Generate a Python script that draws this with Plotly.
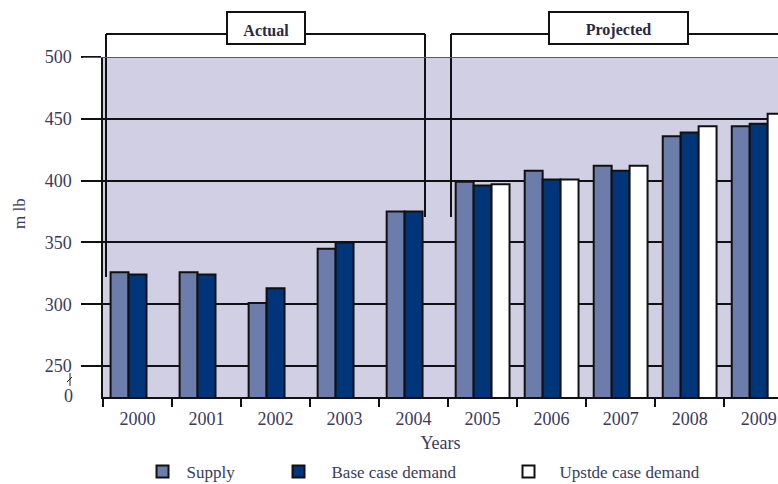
import plotly.graph_objects as go

years = ['2000', '2001', '2002', '2003', '2004', '2005', '2006', '2007', '2008', '2009']
supply = [326, 326, 301, 345, 375, 399, 408, 412, 436, 444]
base_demand = [324, 324, 313, 350, 375, 396, 401, 408, 439, 446]
upside_demand = [None, None, None, None, None, 397, 401, 412, 444, 454]

y_ticks = [250, 300, 350, 400, 450, 500]
y_labels = ['250', '300', '350', '400', '450', '500']

W, H = 778, 484
L, R, T, B = 103, 0, 57, 87
PW, PH = W - L - R, H - T - B

def fx(p):
    return (p - L) / PW

def fy(p):
    return (H - B - p) / PH

TXT = '#3b3b5e'
FONT = 'Liberation Serif'

fig = go.Figure()
fig.add_bar(x=years, y=supply, name='Supply', legend='legend',
            marker=dict(color='#6d7dab', line=dict(color='#111111', width=2)))
fig.add_bar(x=years, y=base_demand, name='Base case demand', legend='legend2',
            marker=dict(color='#00357a', line=dict(color='#111111', width=2)))
fig.add_bar(x=years, y=upside_demand, name='Upstde case demand', legend='legend3',
            marker=dict(color='#ffffff', line=dict(color='#111111', width=2)))

shapes = []
line = dict(color='#111111', width=2)
lab_font = dict(family=FONT, size=16, color='#2a2a40')
# Actual bracket
shapes.append(dict(type='line', xref='paper', yref='paper', x0=fx(106), x1=fx(425), y0=fy(34), y1=fy(34), line=line))
shapes.append(dict(type='line', xref='paper', yref='paper', x0=fx(106), x1=fx(106), y0=fy(34), y1=fy(277), line=line))
shapes.append(dict(type='line', xref='paper', yref='paper', x0=fx(425), x1=fx(425), y0=fy(34), y1=fy(217), line=line))
shapes.append(dict(type='rect', xref='paper', yref='paper', x0=fx(227), x1=fx(305), y0=fy(12), y1=fy(44),
                   line=line, fillcolor='white',
                   label=dict(text='<b>Actual</b>', font=lab_font, textposition='middle center')))
# Projected bracket
shapes.append(dict(type='line', xref='paper', yref='paper', x0=fx(451), x1=fx(778), y0=fy(34), y1=fy(34), line=line))
shapes.append(dict(type='line', xref='paper', yref='paper', x0=fx(451), x1=fx(451), y0=fy(34), y1=fy(217), line=line))
shapes.append(dict(type='rect', xref='paper', yref='paper', x0=fx(549), x1=fx(688), y0=fy(12), y1=fy(44),
                   line=line, fillcolor='white',
                   label=dict(text='<b>Projected</b>', font=lab_font, textposition='middle center')))
# top line at 500
shapes.append(dict(type='line', xref='paper', yref='y', x0=fx(83), x1=1, y0=500, y1=500,
                   line=dict(color='#5a5a66', width=2), layer='above'))
# axis break mark
shapes.append(dict(type='line', xref='paper', yref='paper', x0=fx(70), x1=fx(70), y0=fy(373), y1=fy(386),
                   line=dict(color='#222222', width=1)))
shapes.append(dict(type='line', xref='paper', yref='paper', x0=fx(67), x1=fx(72), y0=fy(382), y1=fy(377),
                   line=dict(color='#222222', width=1)))

annotations = [
    dict(text='0', xref='paper', yref='paper', x=fx(75), y=fy(396), xanchor='right', yanchor='middle',
         showarrow=False, font=dict(family=FONT, size=18, color=TXT)),
    dict(text='m lb', xref='paper', yref='paper', x=fx(19), y=fy(214), xanchor='center', yanchor='middle',
         textangle=-90, showarrow=False, font=dict(family=FONT, size=17, color=TXT)),
]

leg_common = dict(orientation='h', xref='container', yref='container', yanchor='middle', y=(H - 472) / H,
                  font=dict(family=FONT, size=17, color=TXT), bgcolor='rgba(0,0,0,0)')

fig.update_layout(
    width=W, height=H,
    margin=dict(l=L, r=R, t=T, b=B),
    paper_bgcolor='white',
    plot_bgcolor='#d0cfe4',
    barmode='group', bargap=0.22, bargroupgap=0,
    showlegend=True,
    legend=dict(leg_common, x=138.5 / W, itemwidth=38),
    legend2=dict(leg_common, x=265.5 / W, itemwidth=56),
    legend3=dict(leg_common, x=497.5 / W, itemwidth=52),
    shapes=shapes,
    annotations=annotations,
    xaxis=dict(type='category', range=[-0.5, 9.28], tickson='boundaries', ticks='outside', ticklen=8,
               tickwidth=1.5, tickcolor='#111111', showline=True, linecolor='#111111', linewidth=1.5,
               showgrid=False, ticklabelstandoff=5, tickfont=dict(family=FONT, size=18, color=TXT),
               title=dict(text='Years', font=dict(family=FONT, size=18, color=TXT), standoff=8)),
    yaxis=dict(range=[225, 500], autorange=False, tickmode='array', tickvals=y_ticks, ticktext=y_labels,
               ticks='outside', ticklen=20, tickwidth=1.5, tickcolor='#111111', showgrid=True,
               gridcolor='#111111', gridwidth=1.5, showline=True, linecolor='#111111', linewidth=1.5,
               zeroline=False, ticklabelstandoff=6, tickfont=dict(family=FONT, size=18, color=TXT)),
)

fig.write_html('out.html')
